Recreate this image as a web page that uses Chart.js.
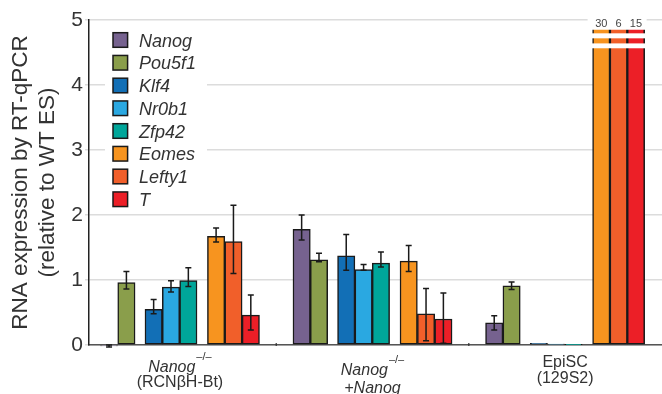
<!DOCTYPE html>
<html>
<head>
<meta charset="utf-8">
<script src="https://cdn.jsdelivr.net/npm/chart.js@4.4.1/dist/chart.umd.min.js"></script>
<style>
  html, body { margin: 0; padding: 0; background: #fff; }
  canvas { display: block; }
</style>
</head>
<body>
<canvas id="chart" width="662" height="394"></canvas>
<script>
// ---- data ----
const genes = ['Nanog', 'Pou5f1', 'Klf4', 'Nr0b1', 'Zfp42', 'Eomes', 'Lefty1', 'T'];
const geneColors = ['#76628f', '#8a9e4b', '#126fb6', '#2aa8e1', '#00a69a', '#f7941f', '#f15f2a', '#ec1f27'];

// Nanog-/- (RCNbH-Bt)
const rcnMean = [-0.015, 0.96, 0.55, 0.89, 0.99, 1.67, 1.59, 0.46];
const rcnHigh = [0.0, 1.13, 0.70, 0.99, 1.19, 1.80, 2.15, 0.77];
const rcnLow  = [-0.03, 0.86, 0.48, 0.815, 0.90, 1.585, 1.10, 0.23];
// Nanog-/- + Nanog
const rescueMean = [1.78, 1.31, 1.37, 1.16, 1.26, 1.29, 0.48, 0.40];
const rescueHigh = [2.00, 1.41, 1.70, 1.24, 1.43, 1.53, 0.87, 0.80];
const rescueLow  = [1.615, 1.28, 1.15, 1.15, 1.20, 1.13, 0.066, 0.026];
// EpiSC (129S2)
const episcMean = [0.34, 0.91, 0.026, 0.015, 0.006, 30, 6, 15];
const episcHigh = [0.45, 0.97, null, null, null, null, null, null];
const episcLow  = [0.23, 0.855, null, null, null, null, null, null];

const yTicks = [0, 1, 2, 3, 4, 5];

// group captions: runs of text, italic / superscript flags
const captionMain = [
  [{ t: 'Nanog', it: true }, { t: '–/–', sup: true }],
  [{ t: 'Nanog', it: true }, { t: '–/–', sup: true }],
  [{ t: 'EpiSC' }]
];
const captionSub = [
  [{ t: '(RCNβH-Bt)' }],
  [{ t: '+Nanog', it: true }],
  [{ t: '(129S2)' }]
];

// ---- layout ----
const means = [rcnMean, rescueMean, episcMean];
const highs = [rcnHigh, rescueHigh, episcHigh];
const lows  = [rcnLow, rescueLow, episcLow];
const SLOT = [0, 1, 2.57, 3.57, 4.57, 6.17, 7.17, 8.17];   // bar slots inside a group (bar width = 1)
const PERIOD = 11.1;                                        // distance between groups
const GROUP_MID = (SLOT[0] - 0.5 + SLOT[SLOT.length - 1] + 0.5) / 2;
const BOUNDARIES = [1, 2].map(g => g * PERIOD - 0.5 - (PERIOD - SLOT[SLOT.length - 1] - 1) / 2);
const BREAK_TOP = 4.85;
const BREAK_GAPS = [[4.795, 4.718], [4.64, 4.565]];
const FONT = "'Liberation Sans', Arial, Helvetica, sans-serif";

const datasets = genes.map((g, k) => ({
  label: g,
  data: means.map((m, gi) => ({ x: gi * PERIOD + SLOT[k], y: m[k] })),
  errHigh: highs.map(h => h[k]),
  errLow: lows.map(l => l[k]),
  backgroundColor: geneColors[k],
  borderColor: '#1a1a1a',
  borderWidth: 1.5,
  borderSkipped: false,
  grouped: false,
  barPercentage: 1,
  categoryPercentage: 1,
  clip: 6
}));

// legend drawn inside the plot, on a white panel
const insideLegend = {
  id: 'insideLegend',
  beforeDatasetsDraw(chart) {
    const { ctx, chartArea } = chart;
    const x0 = chartArea.left;
    ctx.save();
    ctx.fillStyle = '#fff';
    ctx.fillRect(x0 + 16, 26, 102, 184);
    chart.data.datasets.forEach((ds, k) => {
      const cy = 40 + k * 22.75;
      ctx.fillStyle = ds.backgroundColor;
      ctx.fillRect(x0 + 24, cy - 7.3, 14.6, 14.6);
      ctx.strokeStyle = '#1a1a1a';
      ctx.lineWidth = 1.5;
      ctx.strokeRect(x0 + 24, cy - 7.3, 14.6, 14.6);
      ctx.fillStyle = '#333';
      ctx.font = 'italic 18px ' + FONT;
      ctx.textAlign = 'left';
      ctx.textBaseline = 'alphabetic';
      ctx.fillText(ds.label, x0 + 50, cy + 6.5);
    });
    ctx.restore();
  }
};

// error bars, axis breaks for off-scale bars, and their value labels
const barExtras = {
  id: 'barExtras',
  afterDatasetsDraw(chart) {
    const { ctx, chartArea, scales: { y } } = chart;
    ctx.save();
    const tall = [];
    chart.data.datasets.forEach((ds, k) => {
      const meta = chart.getDatasetMeta(k);
      meta.data.forEach((el, j) => {
        if (ds.data[j].y > y.max) tall.push({ el, v: ds.data[j].y });
      });
    });
    if (tall.length) {
      const left = Math.min(...tall.map(t => t.el.x - t.el.width / 2));
      const right = Math.max(...tall.map(t => t.el.x + t.el.width / 2));
      const yCut = y.getPixelForValue(BREAK_TOP);
      ctx.fillStyle = '#fff';
      ctx.fillRect(left - 5, chartArea.top - 9, right - left + 7, yCut - chartArea.top + 9);
      BREAK_GAPS.forEach(([a, b]) => {
        const ya = y.getPixelForValue(a), yb = y.getPixelForValue(b);
        ctx.fillRect(left - 1, ya, right - left + 2, yb - ya);
      });
      ctx.fillStyle = '#444';
      ctx.font = '11px ' + FONT;
      ctx.textAlign = 'center';
      ctx.textBaseline = 'alphabetic';
      tall.forEach(t => ctx.fillText(String(t.v), t.el.x, chartArea.top + 7));
    }
    ctx.strokeStyle = '#1a1a1a';
    ctx.lineWidth = 1.5;
    chart.data.datasets.forEach((ds, k) => {
      const meta = chart.getDatasetMeta(k);
      meta.data.forEach((el, j) => {
        const hi = ds.errHigh[j], lo = ds.errLow[j];
        if (hi == null || lo == null) return;
        const yh = y.getPixelForValue(hi), yl = y.getPixelForValue(lo);
        ctx.beginPath();
        ctx.moveTo(el.x, yh); ctx.lineTo(el.x, yl);
        ctx.moveTo(el.x - 3, yh); ctx.lineTo(el.x + 3, yh);
        ctx.moveTo(el.x - 3, yl); ctx.lineTo(el.x + 3, yl);
        ctx.stroke();
      });
    });
    ctx.restore();
  }
};

// group captions under the x axis, with italic gene names and superscripts
const groupCaptions = {
  id: 'groupCaptions',
  afterDraw(chart) {
    const { ctx, chartArea, scales: { x } } = chart;
    const base = chartArea.bottom;
    const mainOffset = [27, 30, 22];
    const subOffset = [42, 48, 37.5];
    ctx.save();
    ctx.fillStyle = '#333';
    ctx.textBaseline = 'alphabetic';
    ctx.textAlign = 'left';
    const fontOf = r => (r.it ? 'italic ' : '') + (r.sup ? '11px ' : '16px ') + FONT;
    const drawRuns = (runs, cx, by) => {
      let w = 0;
      runs.forEach(r => { ctx.font = fontOf(r); w += ctx.measureText(r.t).width + (r.sup ? 1 : 0); });
      let xx = cx - w / 2;
      runs.forEach(r => {
        ctx.font = fontOf(r);
        if (r.sup) xx += 1;
        ctx.fillText(r.t, xx, r.sup ? by - 12.5 : by);
        xx += ctx.measureText(r.t).width;
      });
    };
    captionMain.forEach((runs, gi) => {
      const cx = x.getPixelForValue(gi * PERIOD + GROUP_MID);
      drawRuns(runs, cx, base + mainOffset[gi]);
      drawRuns(captionSub[gi], cx, base + subOffset[gi]);
    });
    // small separators between groups
    ctx.strokeStyle = '#333';
    ctx.lineWidth = 1.2;
    BOUNDARIES.forEach(b => {
      const px = x.getPixelForValue(b);
      ctx.beginPath();
      ctx.moveTo(px, base + 1);
      ctx.lineTo(px, base - 2);
      ctx.stroke();
    });
    ctx.restore();
  }
};

Chart.defaults.font.family = FONT;

new Chart(document.getElementById('chart'), {
  type: 'bar',
  data: { datasets },
  plugins: [insideLegend, barExtras, groupCaptions],
  options: {
    responsive: false,
    animation: false,
    layout: { padding: { top: 20, right: 0, bottom: 0, left: 0 } },
    plugins: { legend: { display: false }, tooltip: { enabled: false } },
    scales: {
      x: {
        type: 'linear',
        min: -1.156,
        max: 31.87,
        offset: false,
        afterBuildTicks: s => { s.ticks = BOUNDARIES.map(v => ({ value: v })); },
        afterFit: s => { s.height = 49; },
        ticks: { display: false },
        grid: { display: false, offset: false },
        border: { display: true, color: '#555', width: 1.5 }
      },
      y: {
        min: 0,
        max: 5,
        afterBuildTicks: s => { s.ticks = yTicks.map(v => ({ value: v })); },
        afterFit: s => { s.width = 89; },
        ticks: { color: '#333', padding: 2, font: { size: 21 } },
        grid: { color: '#dcdcdc', lineWidth: 1.5, tickLength: 4, drawTicks: true },
        border: { display: true, color: '#222', width: 1.5 },
        title: {
          display: true,
          text: ['RNA expression by RT-qPCR', '(relative to WT ES)'],
          color: '#333',
          font: { size: 22.5, lineHeight: 1.2 },
          padding: { top: 7.5, bottom: 0 }
        }
      }
    }
  }
});
</script>
</body>
</html>
